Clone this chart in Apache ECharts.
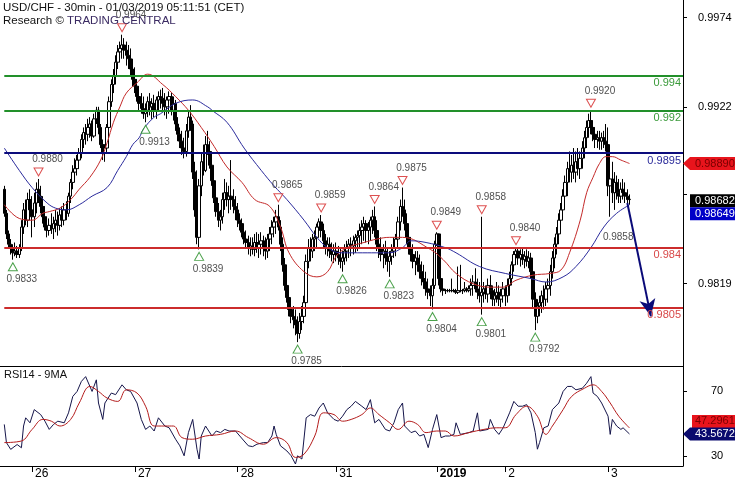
<!DOCTYPE html>
<html><head><meta charset="utf-8">
<script src="https://cdn.jsdelivr.net/npm/echarts@6/dist/echarts.min.js"></script>
<style>html,body{margin:0;padding:0;background:#fff}#c{width:735px;height:480px}</style>
</head><body><div id="c"></div>
<script>
// ---- 30-min bars (bar index 0 = first visible bar, Dec 25 evening) ----
const firstOpen = 0.9874;
const closes = [
0.9860,0.9848,0.9842,0.9840,0.9837,0.9838,0.9836,0.9840,0.9852,0.9862,0.9856,0.9868,0.9862,
0.9858,0.9866,0.9874,0.9870,0.9864,0.9858,0.9852,0.9850,0.9853,0.9851,0.9854,0.9856,0.9853,0.9859,0.9856,0.9862,0.9860,0.9870,
0.9878,0.9884,0.9886,0.9891,0.9895,0.9903,0.9907,0.9906,0.9910,0.9912,0.9905,0.9915,0.9920,0.9910,0.9900,0.9895,0.9898,0.9910,
0.9925,0.9935,0.9940,0.9948,0.9954,0.9956,0.9958,0.9955,0.9952,0.9950,0.9944,0.9938,
0.9934,0.9928,0.9924,0.9921,0.9918,0.9920,0.9925,0.9922,0.9924,0.9920,0.9926,0.9928,0.9927,0.9924,0.9922,0.9926,0.9928,0.9920,
0.9924,0.9912,0.9906,0.9902,0.9898,0.9896,0.9908,0.9916,0.9912,0.9884,0.9862,0.9846,0.9876,0.9890,0.9885,0.9900,0.9896,0.9888,
0.9879,0.9869,0.9861,0.9856,0.9858,0.9868,0.9872,0.9868,0.9870,0.9868,0.9864,0.9862,
0.9856,0.9854,0.9849,0.9845,0.9843,0.9840,0.9841,0.9839,0.9843,0.9840,0.9842,0.9844,0.9840,0.9838,0.9845,0.9848,0.9852,0.9855,
0.9858,0.9852,0.9842,0.9830,0.9818,0.9811,0.9804,0.9800,0.9798,0.9795,0.9790,0.9797,0.9800,0.9808,0.9832,0.9840,0.9838,0.9845,
0.9846,0.9852,0.9855,0.9850,0.9844,0.9840,0.9842,0.9838,0.9836,0.9838,
0.9836,0.9834,0.9832,0.9834,0.9838,0.9840,0.9842,0.9841,0.9844,0.9846,0.9847,0.9850,0.9852,0.9854,0.9850,0.9852,0.9856,0.9858,
0.9850,0.9842,0.9840,0.9836,0.9838,0.9834,0.9832,0.9835,0.9838,0.9840,0.9845,0.9855,0.9864,0.9862,0.9854,0.9846,0.9840,0.9836,
0.9832,0.9834,0.9830,0.9826,0.9822,0.9820,0.9816,0.9814,0.9812,0.9818,0.9842,
0.9848,0.9822,0.9816,0.9815,0.9815,0.9815,0.9815,0.9815,0.9815,0.9814,0.9815,0.9815,0.9815,0.9816,0.9815,0.9816,0.9818,0.9820,
0.9816,0.9814,0.9812,0.9814,0.9816,0.9813,0.9818,0.9815,0.9810,0.9812,0.9814,0.9810,0.9812,0.9816,
0.9812,0.9818,0.9822,0.9830,0.9836,0.9838,0.9834,0.9836,0.9833,0.9835,0.9832,0.9834,0.9826,0.9810,0.9800,0.9806,0.9808,0.9812,
0.9810,0.9816,0.9818,0.9826,0.9834,0.9842,0.9848,0.9856,0.9862,0.9870,0.9878,0.9886,0.9884,0.9888,0.9884,0.9890,0.9886,0.9892,
0.9898,0.9904,0.9910,0.9914,0.9910,0.9906,0.9903,0.9904,0.9902,0.9904,0.9902,0.9900,
0.9876,0.9880,0.9872,0.9878,0.9872,0.9870,0.9874,0.9872,0.9870,0.9868,0.98682
];
const highs = [
0.9876,0.9862,0.9850,0.9845,0.9842,0.9843,0.9841,0.9842,0.9856,0.9866,0.9868,0.9872,0.9874,
0.9870,0.9872,0.9878,0.9880,0.9876,0.9870,0.9864,0.9858,0.9857,0.9860,0.9858,0.9862,0.9861,0.9863,0.9864,0.9866,0.9867,0.9872,
0.9880,0.9888,0.9892,0.9894,0.9898,0.9906,0.9910,0.9912,0.9915,0.9916,0.9914,0.9918,0.9922,0.9922,0.9912,0.9903,0.9900,0.9912,
0.9928,0.9938,0.9944,0.9952,0.9958,0.9960,0.9964,0.9962,0.9960,0.9958,0.9956,0.9950,
0.9945,0.9938,0.9934,0.9930,0.9928,0.9924,0.9928,0.9930,0.9927,0.9929,0.9928,0.9931,0.9932,0.9933,0.9930,0.9928,0.9931,0.9930,
0.9928,0.9926,0.9916,0.9910,0.9908,0.9904,0.9912,0.9920,0.9923,0.9914,0.9890,0.9885,0.9880,0.9895,0.9900,0.9905,0.9908,0.9902,
0.9892,0.9884,0.9874,0.9866,0.9862,0.9872,0.9880,0.9878,0.9876,0.9891,0.9874,0.9870,
0.9866,0.9860,0.9857,0.9852,0.9850,0.9847,0.9846,0.9846,0.9848,0.9849,0.9848,0.9849,0.9847,0.9846,0.9848,0.9852,0.9856,0.9858,
0.9862,0.9865,0.9856,0.9846,0.9834,0.9822,0.9815,0.9808,0.9806,0.9804,0.9800,0.9802,0.9806,0.9812,0.9836,0.9845,0.9846,0.9848,
0.9850,0.9854,0.9857,0.9859,0.9854,0.9848,0.9846,0.9846,0.9843,0.9842,
0.9843,0.9841,0.9840,0.9838,0.9842,0.9844,0.9845,0.9846,0.9847,0.9848,0.9850,0.9854,0.9856,0.9858,0.9856,0.9855,0.9858,0.9862,
0.9864,0.9856,0.9848,0.9846,0.9842,0.9844,0.9840,0.9838,0.9842,0.9846,0.9848,0.9858,0.9868,0.9875,0.9868,0.9860,0.9852,0.9846,
0.9842,0.9838,0.9838,0.9836,0.9832,0.9830,0.9826,0.9822,0.9818,0.9822,0.9844,
0.9849,0.9846,0.9826,0.9818,0.9816,0.9816,0.9816,0.9822,0.9816,0.9816,0.9829,0.9830,0.9816,0.9820,0.9817,0.9818,0.9822,0.9824,
0.9828,0.9822,0.9820,0.9858,0.9820,0.9818,0.9822,0.9824,0.9818,0.9816,0.9820,0.9818,0.9816,0.9820,
0.9818,0.9822,0.9826,0.9832,0.9838,0.9840,0.9840,0.9839,0.9840,0.9838,0.9839,0.9838,0.9837,0.9828,0.9814,0.9810,0.9812,0.9815,
0.9818,0.9820,0.9822,0.9830,0.9838,0.9846,0.9852,0.9860,0.9866,0.9874,0.9882,0.9890,0.9896,0.9894,0.9898,0.9896,0.9898,0.9896,
0.9902,0.9908,0.9914,0.9918,0.9920,0.9914,0.9910,0.9908,0.9908,0.9907,0.9908,0.9912,
0.9910,0.9892,0.9890,0.9884,0.9882,0.9880,0.9878,0.9880,0.9878,0.9874,0.9871
];
const lows = [
0.9858,0.9845,0.9840,0.9836,0.9833,0.9835,0.9834,0.9834,0.9838,0.9848,0.9853,0.9852,0.9858,
0.9846,0.9852,0.9860,0.9866,0.9860,0.9854,0.9850,0.9846,0.9847,0.9848,0.9845,0.9849,0.9847,0.9850,0.9852,0.9853,0.9856,0.9858,
0.9866,0.9874,0.9880,0.9882,0.9886,0.9892,0.9898,0.9900,0.9902,0.9904,0.9902,0.9904,0.9912,0.9906,0.9898,0.9891,0.9890,0.9896,
0.9908,0.9922,0.9930,0.9935,0.9944,0.9948,0.9950,0.9950,0.9946,0.9944,0.9940,0.9934,
0.9930,0.9925,0.9920,0.9918,0.9915,0.9913,0.9916,0.9917,0.9915,0.9916,0.9915,0.9920,0.9921,0.9920,0.9917,0.9915,0.9918,0.9917,
0.9914,0.9908,0.9902,0.9898,0.9894,0.9892,0.9893,0.9904,0.9908,0.9880,0.9858,0.9842,0.9839,0.9870,0.9882,0.9884,0.9894,0.9886,
0.9876,0.9866,0.9858,0.9852,0.9850,0.9854,0.9862,0.9864,0.9860,0.9862,0.9860,0.9856,
0.9852,0.9850,0.9846,0.9842,0.9840,0.9836,0.9835,0.9836,0.9835,0.9837,0.9834,0.9836,0.9835,0.9833,0.9834,0.9838,0.9842,0.9846,
0.9848,0.9850,0.9838,0.9826,0.9815,0.9808,0.9800,0.9796,0.9793,0.9789,0.9785,0.9787,0.9792,0.9796,0.9805,0.9828,0.9832,0.9834,
0.9838,0.9840,0.9846,0.9846,0.9840,0.9836,0.9835,0.9834,0.9832,0.9831,
0.9832,0.9830,0.9828,0.9826,0.9830,0.9832,0.9834,0.9835,0.9836,0.9837,0.9838,0.9840,0.9842,0.9844,0.9843,0.9842,0.9844,0.9848,
0.9846,0.9838,0.9834,0.9832,0.9828,0.9830,0.9826,0.9823,0.9830,0.9834,0.9835,0.9840,0.9850,0.9858,0.9850,0.9842,0.9836,0.9832,
0.9828,0.9824,0.9826,0.9822,0.9818,0.9816,0.9812,0.9810,0.9806,0.9804,0.9816,
0.9841,0.9818,0.9814,0.9812,0.9813,0.9814,0.9814,0.9814,0.9814,0.9813,0.9813,0.9814,0.9813,0.9814,0.9814,0.9814,0.9812,0.9812,
0.9814,0.9810,0.9808,0.9801,0.9808,0.9810,0.9808,0.9810,0.9806,0.9806,0.9808,0.9806,0.9805,0.9808,
0.9806,0.9808,0.9812,0.9818,0.9826,0.9830,0.9830,0.9829,0.9830,0.9828,0.9829,0.9828,0.9822,0.9805,0.9792,0.9796,0.9800,0.9802,
0.9804,0.9806,0.9808,0.9812,0.9822,0.9828,0.9836,0.9842,0.9850,0.9856,0.9864,0.9870,0.9878,0.9878,0.9880,0.9878,0.9882,0.9880,
0.9886,0.9892,0.9898,0.9904,0.9906,0.9902,0.9898,0.9898,0.9897,0.9897,0.9898,0.9896,
0.9870,0.9858,0.9866,0.9862,0.9868,0.9866,0.9866,0.9868,0.9866,0.9864,0.9865
];

// ---- day separators (bar index of first bar of each day) and their labels ----
const dayStarts = [13, 61, 109, 155, 202, 234, 282];
const dayLabels = ['26', '27', '28', '31', '2019', '2', '3'];

// ---- price axis ticks / labels ----
const priceTicks = [0.9819, 0.9871, 0.9922, 0.9974];
const priceLabels = [0.9819, 0.9922, 0.9974];
const rsiTicks = [30, 70];

// ---- moving averages on price [bar, value] ----
const maFast = [[0,0.9865],[7,0.9857],[13,0.9856],[18,0.9860],[21,0.9861],[26,0.9863],[31,0.9868],[35,0.9874],[40,0.9881],[45,0.9891],
[48,0.9901],[51,0.9913],[54,0.9922],[57,0.9930],[62,0.9936],[67,0.9941],[74,0.9935],[80,0.9928],[86,0.9920],[92,0.9910],[98,0.9899],
[104,0.9887],[111,0.9878],[117,0.9868],[124,0.9864],[129,0.9852],[133,0.9837],[140,0.9826],[146,0.9823],[151,0.9826],[155,0.9835],
[160,0.9840],[168,0.9843],[174,0.9845],[180,0.9846],[186,0.9846],[199,0.9839],[205,0.9833],[211,0.9825],[219,0.9819],[227,0.9817],
[233,0.9817],[239,0.9821],[247,0.9824],[255,0.9825],[260,0.9827],[264,0.9837],[269,0.9856],[272,0.9872],[275,0.9881],[278,0.9889],
[281,0.9893],[284,0.9893],[288,0.9891],[292,0.9889]];
const maSlow = [[0,0.9898],[7,0.9885],[13,0.9875],[20,0.9866],[24,0.9863],[29,0.9862],[35,0.9865],[41,0.9870],[48,0.9875],[53,0.9885],
[57,0.9893],[60,0.9900],[63,0.9904],[65,0.9909],[70,0.9916],[73,0.9918],[80,0.9924],[88,0.9926],[95,0.9922],[97,0.9920],[104,0.9913],
[112,0.9898],[120,0.9885],[126,0.9876],[132,0.9868],[140,0.9856],[146,0.9846],[151,0.9840],[157,0.9837],[165,0.9837],[174,0.9837],
[180,0.9837],[186,0.9840],[190,0.9844],[197,0.9843],[206,0.9840],[211,0.9837],[222,0.9829],[234,0.9825],[246,0.9822],[253,0.9820],
[261,0.9823],[267,0.9829],[274,0.9840],[280,0.9852],[286,0.9860],[292,0.98649]];

// ---- swing highs / lows ----
const peakBars = [16, 55, 128, 148, 173, 186, 202, 223, 239, 274];
const peakValues = [0.9880, 0.9964, 0.9865, 0.9859, 0.9864, 0.9875, 0.9849, 0.9858, 0.9840, 0.9920];
const troughBars = [4, 66, 91, 137, 158, 180, 200, 223, 248];
const troughValues = [0.9833, 0.9913, 0.9839, 0.9785, 0.9826, 0.9823, 0.9804, 0.9801, 0.9792];
const lastSwingLow = [283, 0.9858];

// ---- key levels ----
const levels = [0.994, 0.992, 0.9895, 0.984, 0.9805];
const levelColors = ['#22902a', '#22902a', '#0c0c7c', '#cc2c2c', '#cc2c2c'];
const levelTextColors = ['#3a9a3a', '#3a9a3a', '#2a2a9a', '#d84848', '#d84848'];
const levelSpan = [0, 317];

// ---- projection ----
const projFrom = [291, 0.9866];
const projTo = [302, 0.9800];

// ---- last values ----
const lastFastMA = 0.98890;
const lastSlowMA = 0.98649;
const lastRsi = 43.5672;
const lastRsiMA = 47.2961;

// ---- RSI14 and its 9MA [bar, value] ----
const rsi14 = [[0,49.5],[1,38.2],[3,34],[6,37],[8,35],[9,48.5],[10,53.6],[12,50.5],[14,58.7],[17,55.6],[19,51.5],[21,46.4],[23,49.5],
[25,51.5],[28,50.5],[30,56.7],[32,66.9],[34,70],[36,76.2],[38,79.2],[41,70],[43,77.2],[44,62.8],[46,52.6],[47,62.8],[50,69],[52,68],
[55,74.1],[57,71],[59,70],[62,62.8],[64,52.6],[66,46.4],[68,48.5],[70,45.4],[72,53.6],[75,48.5],[77,47.4],[80,40.3],[82,36.2],[84,30],
[86,44.4],[88,52.6],[90,34.1],[91,28],[92,42.3],[94,48.5],[97,42.3],[99,45.4],[101,44.4],[103,46.4],[105,45.4],[108,45.4],[110,42.3],
[112,39.2],[114,36.2],[116,35.7],[118,37.2],[121,38.2],[123,38.2],[125,42.3],[126,48.5],[127,43.3],[129,36.2],[132,33],[134,30],
[136,24.9],[137,30],[139,28],[141,53.6],[143,55.6],[145,54.6],[147,59.7],[149,62.8],[151,56.7],[154,52.6],[156,51.5],[158,54.6],
[160,58.7],[162,60.8],[164,63.8],[167,60.8],[169,58.7],[171,64.9],[173,50.5],[175,52.6],[178,46.4],[180,45.4],[182,50.5],[184,58.7],
[186,62.8],[187,48.5],[190,44.4],[192,45.4],[194,42.3],[196,43.3],[198,35.1],[200,46.4],[202,55.6],[204,41.3],[206,42.3],[208,42.3],
[210,43.3],[211,50.5],[213,43.3],[217,44.4],[219,45.4],[221,56.7],[222,45.4],[226,46.4],[227,52.6],[229,46.4],[231,43.3],[233,47.4],
[236,56.7],[238,63.8],[240,60.8],[242,60.8],[244,61.8],[246,56.7],[248,44.4],[249,34.1],[250,38.2],[252,47.4],[254,48.5],[256,58.7],
[259,62.8],[261,70],[263,73.1],[265,73.1],[267,71],[270,72],[272,75.1],[274,79.2],[275,69],[277,66.9],[279,62.8],[282,54.6],[283,43.3],
[284,52.6],[286,48.5],[288,46.4],[289,47.4],[292,43.57]];
const rsiMA9 = [[0,38.2],[8,39.2],[13,46.4],[18,52.6],[22,51.5],[26,48.5],[31,52.6],[35,62.8],[40,73.1],[44,70],[48,65.9],[53,63.8],
[57,71],[62,69],[66,60.8],[70,48.5],[75,48.5],[79,48.5],[83,41.3],[88,40.3],[94,42.3],[101,43.3],[108,45.4],[114,41.3],[121,37.2],
[127,41.3],[132,38.2],[136,29],[140,31],[145,42.3],[149,56.7],[154,55.6],[158,51.5],[162,52.6],[167,55.6],[171,59.7],[175,55.6],
[180,50.5],[184,46.4],[189,51.5],[193,49.5],[197,44.4],[202,45.4],[206,45.4],[210,42.3],[217,44.4],[224,46.4],[230,47.4],[234,47.4],
[239,55.6],[244,60.8],[249,54.6],[253,43.3],[256,48.5],[261,58.7],[265,66.9],[271,72],[275,74.1],[279,70],[283,62.8],[287,54.6],[292,47.3]];

const FONT = '"Liberation Sans", Arial, sans-serif';
const candles = closes.map((c, i) => [i, i === 0 ? firstOpen : closes[i - 1], c, lows[i], highs[i]]);

const chart = echarts.init(document.getElementById('c'), null, { renderer: 'canvas' });
const xCommon = { type: 'value', min: -2, max: 317 };

chart.setOption({
  animation: false,
  backgroundColor: '#fff',
  textStyle: { fontFamily: FONT },
  grid: [
    { left: 0, right: 52, top: 0, height: 366 },
    { left: 0, right: 52, top: 366, height: 101 }
  ],
  xAxis: [
    Object.assign({ gridIndex: 0, show: false }, xCommon),
    Object.assign({
      gridIndex: 1, position: 'bottom',
      axisLine: { show: true, onZero: false, lineStyle: { color: '#000', width: 1 } },
      axisTick: { show: true, customValues: dayStarts, length: 6, lineStyle: { color: '#000' } },
      axisLabel: {
        show: true, customValues: dayStarts, margin: 2, align: 'left', padding: [0, 0, 0, 3],
        fontSize: 12, color: '#000', fontFamily: FONT,
        formatter: v => { const k = dayStarts.indexOf(Math.round(v)); const t = k >= 0 ? dayLabels[k] : ''; return t === '2019' ? '{b|2019}' : t; },
        rich: { b: { fontWeight: 'bold', fontSize: 12, fontFamily: FONT, color: '#000' } }
      },
      splitLine: { show: false }
    }, xCommon),
    Object.assign({
      gridIndex: 1, position: 'top',
      axisLine: { show: true, onZero: false, lineStyle: { color: '#000', width: 1 } },
      axisTick: { show: false }, axisLabel: { show: false }, splitLine: { show: false }
    }, xCommon)
  ],
  yAxis: [
    {
      gridIndex: 0, type: 'value', position: 'right', min: 0.97711, max: 0.99842, scale: true,
      axisLine: { show: true, onZero: false, lineStyle: { color: '#000', width: 1 } },
      axisTick: { show: true, customValues: priceTicks, length: 4, lineStyle: { color: '#000' } },
      axisLabel: { show: true, customValues: priceLabels, margin: 15, fontSize: 11, color: '#000', fontFamily: FONT, formatter: v => v.toFixed(4) },
      splitLine: { show: false }
    },
    {
      gridIndex: 1, type: 'value', position: 'right', min: 23.66, max: 85.8, scale: true,
      axisLine: { show: true, onZero: false, lineStyle: { color: '#000', width: 1 } },
      axisTick: { show: true, customValues: rsiTicks, length: 4, lineStyle: { color: '#000' } },
      axisLabel: { show: true, customValues: rsiTicks, margin: 28, fontSize: 11, color: '#000', fontFamily: FONT },
      splitLine: { show: false }
    }
  ],
  series: [
    {
      type: 'candlestick', xAxisIndex: 0, yAxisIndex: 0,
      dimensions: ['bar', 'open', 'close', 'low', 'high'],
      encode: { x: 'bar', y: ['open', 'close', 'low', 'high'] },
      data: candles, barWidth: 3,
      itemStyle: { color: '#ffffff', color0: '#000000', borderColor: '#000000', borderColor0: '#000000', borderWidth: 1 },
      z: 2
    },
    {
      type: 'line', xAxisIndex: 0, yAxisIndex: 0, data: maFast, smooth: 0.4, showSymbol: false,
      lineStyle: { color: '#c42a2a', width: 1 }, z: 3
    },
    {
      type: 'line', xAxisIndex: 0, yAxisIndex: 0, data: maSlow, smooth: 0.4, showSymbol: false,
      lineStyle: { color: '#2a2a9c', width: 1 }, z: 3,
      markLine: {
        silent: true, symbol: ['none', 'none'], animation: false,
        data: levels.map((v, i) => ([
          { coord: [levelSpan[0], v], lineStyle: { color: levelColors[i], width: 2, type: 'solid' },
            label: { show: true, position: 'insideEndBottom', distance: 2, formatter: String(v), color: levelTextColors[i], fontSize: 11, fontFamily: FONT } },
          { coord: [levelSpan[1], v] }
        ])).concat([[
          { coord: projFrom, symbol: 'none', lineStyle: { color: '#0a0a78', width: 2, type: 'solid' }, label: { show: false } },
          { coord: projTo, symbol: 'arrow', symbolSize: [12, 17] }
        ]])
      }
    },
    {
      type: 'scatter', xAxisIndex: 0, yAxisIndex: 0,
      data: peakBars.map((b, i) => [b, peakValues[i]]),
      symbol: 'path://M0,0 L10,0 L5,9 Z', symbolSize: [9, 8], symbolOffset: [0, -7],
      itemStyle: { color: '#ffffff', borderColor: '#d42424', borderWidth: 1 },
      label: { show: true, position: 'top', distance: 3, offset: [9, 0], fontSize: 10, color: '#222', fontFamily: FONT, formatter: p => p.value[1].toFixed(4) },
      z: 5
    },
    {
      type: 'scatter', xAxisIndex: 0, yAxisIndex: 0,
      data: troughBars.map((b, i) => [b, troughValues[i]]),
      symbol: 'triangle', symbolSize: [9, 8], symbolOffset: [0, 7],
      itemStyle: { color: '#ffffff', borderColor: '#1e8a1e', borderWidth: 1 },
      label: { show: true, position: 'bottom', distance: 3, offset: [9, 0], fontSize: 10, color: '#222', fontFamily: FONT, formatter: p => p.value[1].toFixed(4) },
      z: 5
    },
    {
      type: 'scatter', xAxisIndex: 0, yAxisIndex: 0, data: [lastSwingLow],
      symbol: 'triangle', symbolSize: [9, 8], symbolOffset: [0, 7],
      itemStyle: { color: 'rgba(0,0,0,0)', borderWidth: 0 },
      label: { show: true, position: 'bottom', distance: 5, offset: [8, 0], fontSize: 10, color: '#222', fontFamily: FONT, formatter: p => p.value[1].toFixed(4) },
      z: 5
    },
    {
      type: 'line', xAxisIndex: 1, yAxisIndex: 1, data: rsi14, showSymbol: false,
      lineStyle: { color: '#15154a', width: 1 }, z: 3
    },
    {
      type: 'line', xAxisIndex: 1, yAxisIndex: 1, data: rsiMA9, smooth: 0.4, showSymbol: false,
      lineStyle: { color: '#b41c1c', width: 1 }, z: 4
    }
  ]
});

// value boxes placed through the axes' own scales
const py = v => chart.convertToPixel({ gridIndex: 0 }, [0, v])[1];
const ry = v => chart.convertToPixel({ gridIndex: 1 }, [0, v])[1];
const AX = 683, RIGHT = 735;
function arrowBox(y, bg, fg, text) {
  return [
    { type: 'polygon', z: 100, shape: { points: [[AX, y], [AX + 7, y - 6.5], [RIGHT, y - 6.5], [RIGHT, y + 6.5], [AX + 7, y + 6.5]] }, style: { fill: bg } },
    { type: 'text', z: 101, x: 695, y: y, style: { text: text, fill: fg, font: '11px ' + FONT, textVerticalAlign: 'middle' } }
  ];
}
function plainBox(y, x0, bg, fg, text) {
  return [
    { type: 'rect', z: 100, shape: { x: x0, y: y - 6.5, width: RIGHT - x0, height: 13 }, style: { fill: bg } },
    { type: 'text', z: 101, x: 695, y: y, style: { text: text, fill: fg, font: '11px ' + FONT, textVerticalAlign: 'middle' } }
  ];
}
const yFast = py(lastFastMA);
const yClose = py(closes[closes.length - 1]) + 1.5;
const ySlow = Math.max(py(lastSlowMA), yClose + 13);
const yRsi = ry(lastRsi);
const yRsiMA = Math.min(ry(lastRsiMA), yRsi - 12.5);

chart.setOption({
  graphic: [].concat(
    [
      { type: 'text', x: 3, y: 2, z: 50, style: { text: 'USD/CHF - 30min - 01/03/2019 05:11:51 (CET)', fill: '#111', font: '11.5px ' + FONT } },
      { type: 'text', x: 3, y: 15, z: 50, style: { text: '{a|Research © }{b|TRADING CENTRAL}', rich: { a: { fill: '#111', font: '11.5px ' + FONT }, b: { fill: '#3a2a62', font: '11.5px ' + FONT } } } },
      { type: 'text', x: 4, y: 369, z: 50, style: { text: 'RSI14 - 9MA', fill: '#111', font: '11px ' + FONT } }
    ],
    arrowBox(yFast, '#e8141c', '#7a0000', lastFastMA.toFixed(5)),
    plainBox(yClose, 690, '#000000', '#ffffff', closes[closes.length - 1].toFixed(5)),
    plainBox(ySlow, 690, '#0000c8', '#ffffff', lastSlowMA.toFixed(5)),
    plainBox(yRsiMA, 692, '#e8141c', '#7a0000', lastRsiMA.toFixed(4)),
    arrowBox(yRsi, '#0a0a6e', '#ffffff', lastRsi.toFixed(4))
  )
});
</script>
</body></html>
